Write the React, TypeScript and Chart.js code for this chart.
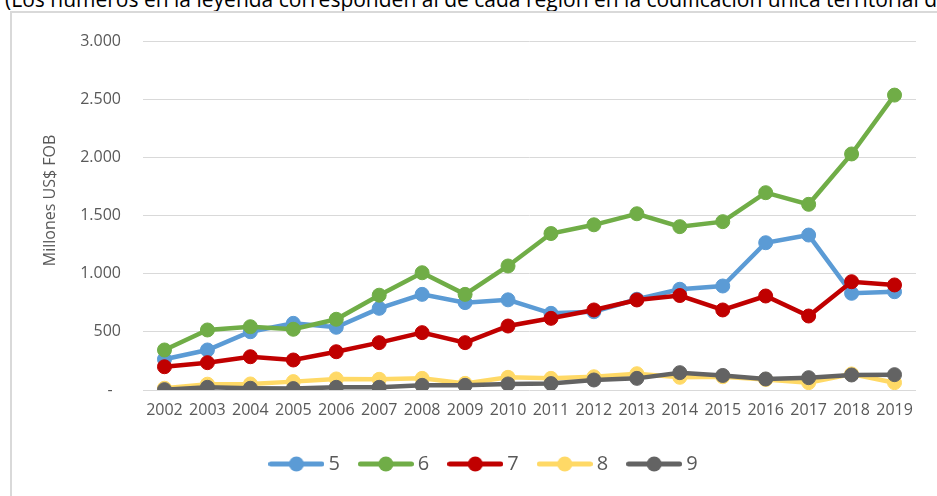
import React, { useEffect, useRef } from "react";
import { Chart, registerables } from "chart.js";

Chart.register(...registerables);

const categories = [
  "2002", "2003", "2004", "2005", "2006", "2007", "2008", "2009", "2010",
  "2011", "2012", "2013", "2014", "2015", "2016", "2017", "2018", "2019",
];

const seriesLabels = ["5", "6", "7", "8", "9"];

const region5 = [264, 344, 501, 573, 539, 702, 822, 751, 775, 659, 673, 780, 866, 894, 1266, 1332, 831, 845];
const region6 = [344, 516, 544, 522, 608, 815, 1008, 822, 1066, 1345, 1420, 1515, 1404, 1447, 1696, 1596, 2029, 2535];
const region7 = [200, 235, 286, 258, 329, 407, 493, 407, 550, 616, 688, 774, 812, 688, 808, 636, 931, 903];
const region8 = [15, 50, 52, 72, 95, 92, 100, 57, 109, 100, 114, 140, 109, 114, 90, 63, 138, 63];
const region9 = [3, 23, 15, 12, 23, 23, 40, 40, 52, 55, 86, 100, 149, 125, 95, 106, 129, 132];

const seriesColors = ["#5B9BD5", "#70AD47", "#C00000", "#FFD966", "#636363"];

const yTickLabels = ["-  ", "500", "1.000", "1.500", "2.000", "2.500", "3.000"];

const FONT = '"Open Sans", "Noto Sans", sans-serif';
const TEXT = "#595959";

function makeIcon(color: string): HTMLCanvasElement {
  const c = document.createElement("canvas");
  c.width = 56;
  c.height = 16;
  const ctx = c.getContext("2d")!;
  ctx.strokeStyle = color;
  ctx.lineWidth = 5;
  ctx.lineCap = "round";
  ctx.beginPath();
  ctx.moveTo(2.5, 8);
  ctx.lineTo(53.5, 8);
  ctx.stroke();
  ctx.fillStyle = color;
  ctx.beginPath();
  ctx.arc(28, 8, 7.5, 0, Math.PI * 2);
  ctx.fill();
  return c;
}

const yTitlePlugin = {
  id: "yTitleCustom",
  afterDraw(chart: any) {
    const ctx = chart.ctx;
    const area = chart.chartArea;
    ctx.save();
    ctx.translate(area.left - 93, area.top + area.height * 0.457);
    ctx.rotate(-Math.PI / 2);
    ctx.font = `16px ${FONT}`;
    ctx.fillStyle = TEXT;
    ctx.textAlign = "center";
    ctx.textBaseline = "middle";
    ctx.fillText("Millones US$ FOB", 0, 0);
    ctx.restore();
  },
};

export default function App() {
  const ref = useRef<HTMLCanvasElement | null>(null);

  useEffect(() => {
    if (!ref.current) return;
    const values = [region5, region6, region7, region8, region9];
    const icons = seriesColors.map(makeIcon);
    const chart = new Chart(ref.current, {
      type: "line",
      data: {
        labels: categories,
        datasets: values.map((v, i) => ({
          label: seriesLabels[i],
          data: v,
          borderColor: seriesColors[i],
          backgroundColor: seriesColors[i],
          pointBackgroundColor: seriesColors[i],
          pointBorderColor: seriesColors[i],
          borderWidth: 4.5,
          pointRadius: 7,
          pointBorderWidth: 1,
          pointHoverRadius: 7,
          tension: 0,
          fill: false,
          order: 5 - i,
        })),
      },
      options: {
        responsive: false,
        animation: false,
        devicePixelRatio: 1,
        layout: { padding: { left: 45, right: 55, top: 20, bottom: 12 } },
        scales: {
          x: {
            offset: true,
            grid: { display: false, drawTicks: false },
            border: { display: false },
            ticks: {
              color: TEXT,
              font: { family: FONT, size: 16 },
              padding: 11,
              maxRotation: 0,
              autoSkip: false,
            },
            afterFit(scale: any) {
              scale.height = 40;
            },
          },
          y: {
            min: 0,
            max: 3000,
            grid: {
              color: "#d9d9d9",
              lineWidth: 1,
              drawTicks: true,
              tickLength: 20,
              tickColor: "rgba(0,0,0,0)",
            },
            border: { display: false },
            ticks: {
              stepSize: 500,
              color: TEXT,
              font: { family: FONT, size: 16 },
              padding: 2,
              callback: (v: any) => yTickLabels[Math.round(Number(v) / 500)],
            },
            afterFit(scale: any) {
              scale.width = 87;
            },
          },
        },
        plugins: {
          tooltip: { enabled: false },
          legend: {
            position: "bottom",
            labels: {
              usePointStyle: true,
              pointStyleWidth: 44,
              boxHeight: 16,
              padding: 24,
              color: TEXT,
              font: { family: FONT, size: 20 },
              generateLabels: (c: any) =>
                c.data.datasets.map((ds: any, i: number) => ({
                  text: ds.label,
                  pointStyle: icons[i],
                  fillStyle: seriesColors[i],
                  strokeStyle: seriesColors[i],
                  lineWidth: 0,
                  fontColor: TEXT,
                  hidden: false,
                  datasetIndex: i,
                })),
            },
          },
        },
      },
      plugins: [yTitlePlugin],
    } as any);
    return () => chart.destroy();
  }, []);

  return (
    <div
      style={{
        position: "fixed",
        left: 0,
        top: 0,
        width: 937,
        height: 496,
        overflow: "hidden",
        background: "#ffffff",
      }}
    >
      <div
        style={{
          position: "absolute",
          left: 5,
          top: -11,
          whiteSpace: "nowrap",
          fontFamily: FONT,
          fontSize: 21,
          lineHeight: "21px",
          color: "#000000",
        }}
      >
        (Los números en la leyenda corresponden al de cada región en la codificación única territorial de Chile)
      </div>
      <div
        style={{
          position: "absolute",
          left: 10,
          top: 11,
          width: 1000,
          height: 600,
          border: "2px solid #d9d9d9",
          boxSizing: "border-box",
        }}
      />
      <div style={{ position: "absolute", left: 11, top: 21 }}>
        <canvas ref={ref} width={960} height={475} style={{ width: 960, height: 475, display: "block" }} />
      </div>
    </div>
  );
}
